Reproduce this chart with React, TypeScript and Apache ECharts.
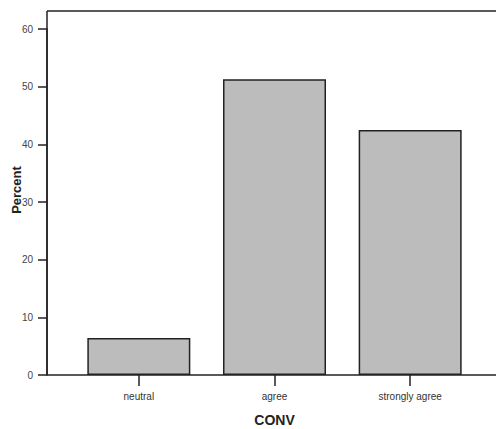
import React, { useEffect, useRef } from "react";
import * as echarts from "echarts";

const categories = ["neutral", "agree", "strongly agree"];
const percentValues = [6.4, 51.3, 42.5];
const yTicks = [0, 10, 20, 30, 40, 50, 60];
const xAxisTitle = "CONV";
const yAxisTitle = "Percent";

export default function App() {
  const ref = useRef<HTMLDivElement>(null);
  useEffect(() => {
    if (!ref.current) return;
    const chart = echarts.init(ref.current, undefined, { renderer: "svg" });
    const font = "Liberation Sans, Arial, sans-serif";
    chart.setOption({
      animation: false,
      backgroundColor: "#ffffff",
      grid: { left: 71, right: 18, top: 29, bottom: 54, containLabel: false, outerBoundsMode: "none" },
      xAxis: {
        type: "category",
        data: categories,
        axisLine: { show: false },
        axisTick: { show: true, alignWithLabel: true, length: 11, lineStyle: { color: "#222", width: 1.5 } },
        axisLabel: { color: "#333", fontSize: 10, fontFamily: font, margin: 16 },
        name: xAxisTitle,
        nameLocation: "middle",
        nameGap: 38,
        nameTextStyle: { color: "#222", fontSize: 14, fontWeight: "bold", fontFamily: font },
      },
      yAxis: {
        type: "value",
        min: yTicks[0],
        max: yTicks[yTicks.length - 1],
        interval: 10,
        offset: 24,
        splitLine: { show: false },
        axisLine: { show: true, lineStyle: { color: "#222", width: 1.5 } },
        axisTick: { show: true, length: 9, lineStyle: { color: "#222", width: 1.5 } },
        axisLabel: { color: "#444", fontSize: 10, fontFamily: font, margin: 14 },
      },
      graphic: [
        { type: "line", shape: { x1: 47, y1: 11, x2: 496, y2: 11 }, style: { stroke: "#222", lineWidth: 1.5 }, z: 1 },
        { type: "line", shape: { x1: 47, y1: 11, x2: 47, y2: 375 }, style: { stroke: "#222", lineWidth: 1.5 }, z: 1 },
        { type: "line", shape: { x1: 47, y1: 375, x2: 496, y2: 375 }, style: { stroke: "#222", lineWidth: 1.5 }, z: 1 },
        {
          type: "text",
          x: 16,
          y: 190,
          rotation: Math.PI / 2,
          style: {
            text: yAxisTitle,
            fill: "#222",
            font: "bold 13px " + font,
            textAlign: "center",
            textVerticalAlign: "middle",
          },
        },
      ],
      series: [
        {
          type: "bar",
          data: percentValues,
          barWidth: 103,
          itemStyle: { color: "#bcbcbc", borderColor: "#222", borderWidth: 1.5 },
          z: 3,
        },
      ],
    });
    return () => chart.dispose();
  }, []);
  return <div ref={ref} style={{ position: "fixed", left: 0, top: 0, width: 496, height: 429 }} />;
}
